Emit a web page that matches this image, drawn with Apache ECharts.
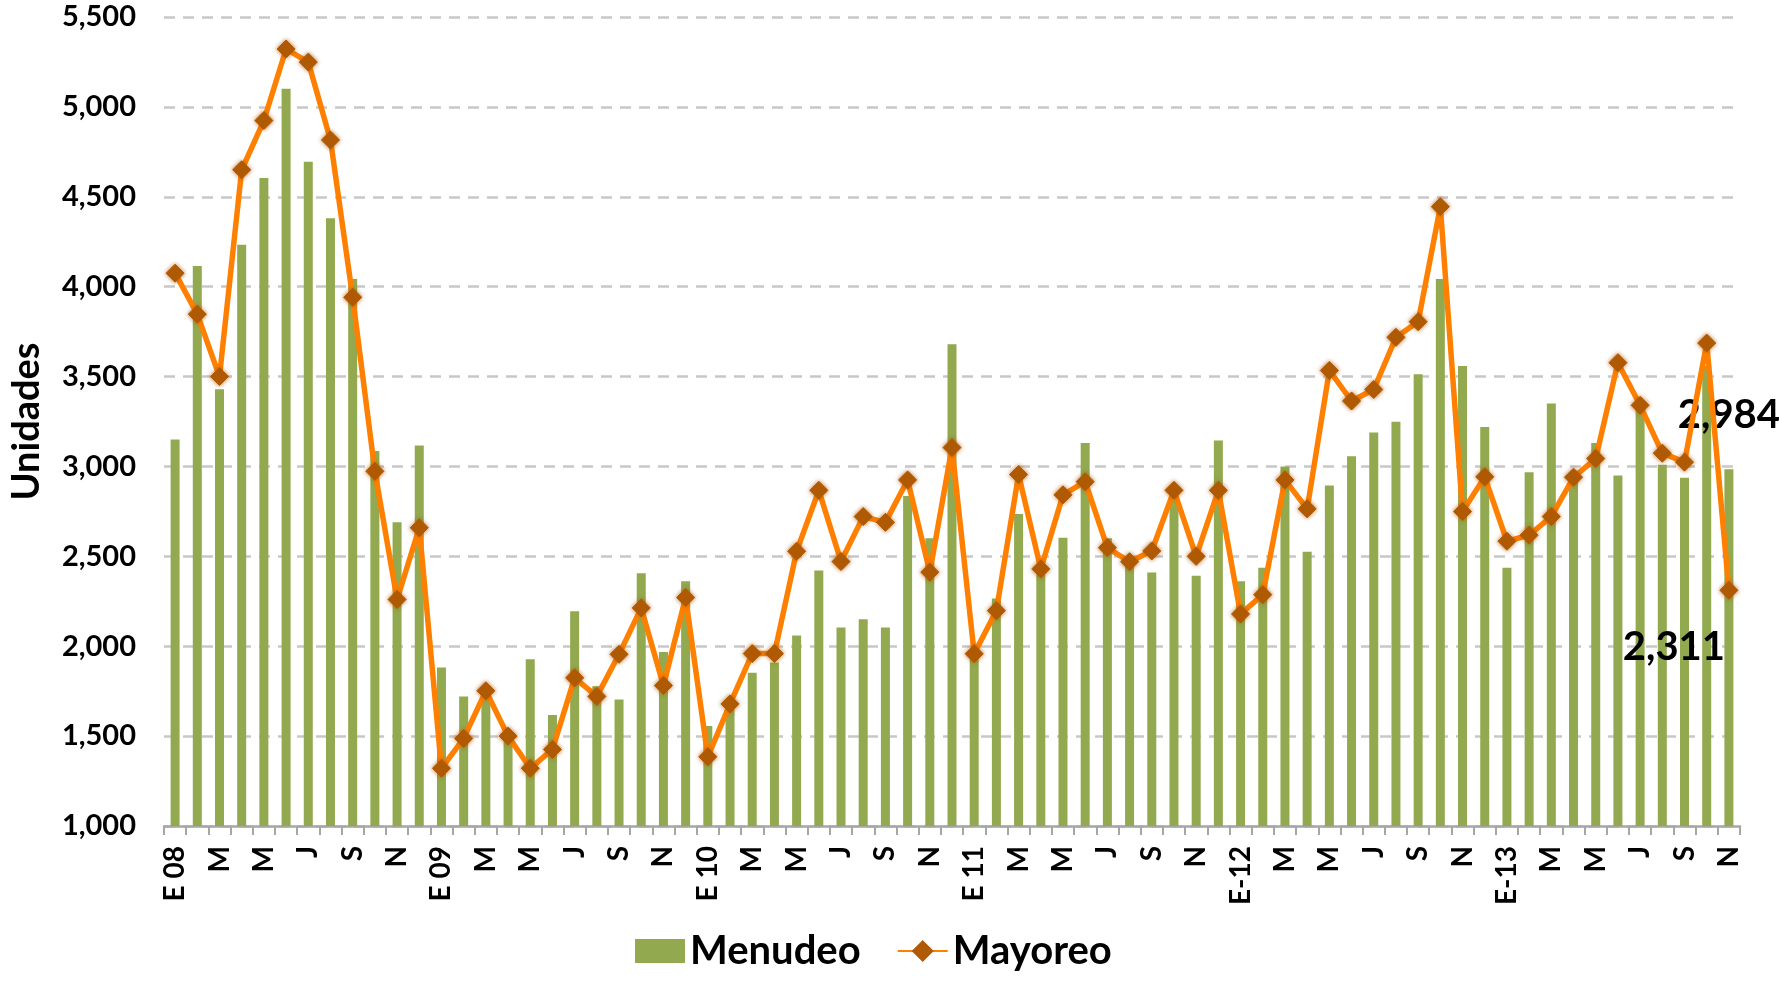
<!DOCTYPE html>
<html>
<head>
<meta charset="utf-8">
<script src="https://cdn.jsdelivr.net/npm/echarts@6/dist/echarts.min.js"></script>
<style>
html,body{margin:0;padding:0;background:#fff;}
#chart{width:1779px;height:982px;}
</style>
</head>
<body>
<div id="chart"></div>
<script>
// Categories: months Jan 2008 .. Nov 2013 (Spanish initials)
const categories = [
  'E 08','F','M','A','M','J','J','A','S','O','N','D',
  'E 09','F','M','A','M','J','J','A','S','O','N','D',
  'E 10','F','M','A','M','J','J','A','S','O','N','D',
  'E 11','F','M','A','M','J','J','A','S','O','N','D',
  'E-12','F','M','A','M','J','J','A','S','O','N','D',
  'E-13','F','M','A','M','J','J','A','S','O','N'
];

const menudeo = [
  3150,4115,3430,4233,4604,5101,4695,4381,4042,3086,2689,3116,
  1882,1721,1730,1510,1927,1618,2194,1777,1704,2406,1968,2362,
  1556,1650,1852,1910,2060,2421,2104,2150,2104,2835,2601,3680,
  1940,2265,2735,2400,2603,3130,2600,2450,2410,2815,2392,3145,
  2362,2437,3000,2526,2894,3057,3189,3248,3513,4042,3559,3219,
  2437,2968,3350,2930,3130,2950,3320,3010,2937,3560,2984
];

const mayoreo = [
  4075,3847,3500,4650,4924,5322,5249,4816,3941,2973,2260,2659,
  1321,1487,1752,1500,1321,1426,1824,1721,1955,2213,1781,2271,
  1385,1679,1959,1959,2528,2867,2471,2721,2689,2925,2412,3105,
  1958,2198,2955,2430,2842,2915,2548,2470,2530,2867,2500,2867,
  2179,2287,2925,2764,3534,3364,3428,3718,3805,4445,2749,2942,
  2584,2618,2721,2940,3044,3577,3340,3074,3024,3686,2311
];

const yTicks = [1000,1500,2000,2500,3000,3500,4000,4500,5000,5500];

const FONT = 'Lato, "Open Sans", "Liberation Sans", sans-serif';
const fmt = v => v.toLocaleString('en-US');
const lastIdx = categories.length - 1;

const barData = menudeo.map((v, i) => i === lastIdx ? {
  value: v,
  label: {show: true, position: 'top', distance: 34, formatter: p => fmt(p.value),
          fontSize: 40, fontWeight: 'bold', color: '#000', fontFamily: FONT}
} : v);

const lineData = mayoreo.map((v, i) => i === lastIdx ? {
  value: v,
  label: {show: true, position: 'inside', offset: [-55, 57], formatter: p => fmt(p.value),
          fontSize: 40, fontWeight: 'bold', color: '#000', fontFamily: FONT}
} : v);

const chart = echarts.init(document.getElementById('chart'), null, {renderer: 'canvas'});
chart.setOption({
  animation: false,
  backgroundColor: '#ffffff',
  textStyle: {fontFamily: FONT},
  grid: {left: 163, right: 39, top: 17, bottom: 156, containLabel: false},
  legend: {
    left: 630, bottom: 6,
    itemWidth: 50, itemHeight: 24, itemGap: 36,
    textStyle: {fontSize: 40, fontWeight: 'bold', color: '#000', fontFamily: FONT},
    data: [
      {name: 'Menudeo', icon: 'rect'},
      {name: 'Mayoreo'}
    ]
  },
  xAxis: {
    type: 'category',
    data: categories,
    boundaryGap: true,
    axisLine: {show: true, lineStyle: {color: '#a6a6a6', width: 2.5}},
    axisTick: {show: true, alignWithLabel: false, interval: 0, length: 9, lineStyle: {color: '#a6a6a6', width: 2}},
    axisLabel: {interval: 1, rotate: 90, margin: 20, fontSize: 28, fontWeight: 'bold', color: '#000', fontFamily: FONT},
    splitLine: {show: false}
  },
  yAxis: {
    type: 'value',
    min: yTicks[0], max: yTicks[yTicks.length - 1], interval: 500,
    name: 'Unidades',
    nameLocation: 'middle',
    nameGap: 118,
    nameRotate: 90,
    nameTextStyle: {fontSize: 38, fontWeight: 'bold', color: '#000', fontFamily: FONT},
    axisLine: {show: false},
    axisTick: {show: false},
    axisLabel: {margin: 28, fontSize: 29, fontWeight: 'bold', color: '#000', fontFamily: FONT,
                formatter: v => fmt(v)},
    splitLine: {show: true, lineStyle: {color: '#c8c8c8', width: 2.5, type: [11, 8]}}
  },
  series: [
    {
      name: 'Menudeo',
      type: 'bar',
      data: barData,
      barWidth: 9,
      itemStyle: {color: '#92A94F'},
      z: 2
    },
    {
      name: 'Mayoreo',
      type: 'line',
      data: lineData,
      symbol: 'diamond',
      symbolSize: 18,
      showSymbol: true,
      showAllSymbol: true,
      lineStyle: {color: '#FF8000', width: 5.5},
      itemStyle: {color: '#B05A04', borderColor: '#B05A04', borderWidth: 1,
                  shadowBlur: 4, shadowColor: 'rgba(176,90,4,0.8)'},
      z: 3
    }
  ]
});
</script>
</body>
</html>
